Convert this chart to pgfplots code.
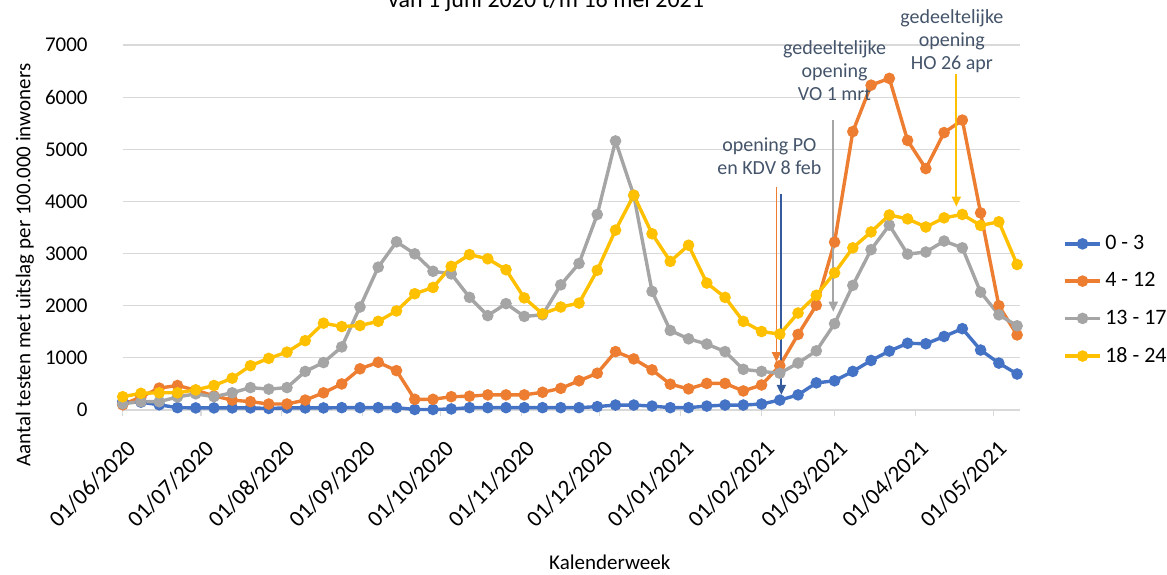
\documentclass[border=0pt]{standalone}
\usepackage{fontspec}
\setmainfont{Carlito}
\usepackage{pgfplots}
\usepackage{pgfplotstable}
\pgfplotsset{compat=1.18}
\usetikzlibrary{arrows.meta}

\definecolor{cA}{HTML}{4472C4}
\definecolor{cB}{HTML}{ED7D31}
\definecolor{cC}{HTML}{A5A5A5}
\definecolor{cD}{HTML}{FFC000}
\definecolor{note}{HTML}{44546A}
\definecolor{gridc}{HTML}{D9D9D9}

% days since 01/06/2020, one row per week
\pgfplotstableread{
d   a    b    c    e
0   160  100  120  255
7   150  250  160  320
14  100  420  160  330
21  45   470  250  330
28  40   380  310  385
35  40   270  255  470
42  40   190  330  610
49  40   160  430  850
56  30   115  400  990
63  40   115  430  1110
70  40   190  740  1330
77  40   330  910  1665
84  45   500  1210 1600
91  45   790  1975 1620
98  45   915  2740 1700
105 45   755  3225 1900
112 10   205  2995 2230
119 10   205  2660 2350
126 20   255  2610 2755
133 45   265  2160 2980
140 45   290  1810 2900
147 45   290  2040 2690
154 45   290  1795 2150
161 45   340  1825 1845
168 45   415  2400 1975
175 45   560  2810 2050
182 65   705  3750 2680
189 95   1120 5160 3450
196 95   980  4115 4120
203 75   770  2275 3380
210 45   495  1525 2850
217 45   405  1365 3160
224 75   510  1265 2435
231 95   510  1120 2160
238 95   365  780  1700
245 115  480  740  1505
252 190  850  705  1455
259 290  1450 900  1860
266 520  2010 1135 2200
273 560  3220 1655 2630
280 740  5340 2390 3110
287 950  6230 3075 3415
294 1130 6360 3545 3740
301 1280 5170 2990 3665
308 1270 4630 3030 3510
315 1410 5320 3240 3685
322 1560 5560 3110 3750
329 1150 3780 2260 3540
336 900  2000 1825 3610
343 690  1440 1615 2790
}\weeks

\begin{document}
\begin{tikzpicture}
\begin{axis}[
  at={(0,0)}, anchor=south west,
  scale only axis, width=448.5pt, height=182.5pt,
  xmin=0, xmax=344, ymin=0, ymax=7000,
  clip=false,
  axis x line*=bottom, axis y line*=left,
  x axis line style={draw=gridc, line width=0.6pt},
  y axis line style={draw=none},
  ytick={0,1000,...,7000},
  ymajorgrids, grid style={gridc, line width=0.6pt},
  ytick style={draw=none},
  xtick={0,30,61,92,122,153,183,214,245,273,304,334},
  xticklabels={01/06/2020,01/07/2020,01/08/2020,01/09/2020,01/10/2020,01/11/2020,01/12/2020,01/01/2021,01/02/2021,01/03/2021,01/04/2021,01/05/2021},
  tick align=outside, major tick length=3pt,
  xtick style={draw=gridc, line width=0.6pt},
  xticklabel style={rotate=45, anchor=north east, font=\fontsize{11.5}{13}\selectfont, inner sep=1pt, xshift=-6pt, yshift=-8pt},
  yticklabel style={font=\fontsize{10.5}{12}\selectfont, xshift=-11pt},
  /pgf/number format/assume math mode=true,
  /pgf/number format/1000 sep={},
  every axis y label/.style={at={(axis description cs:-0.109,0.397)}, rotate=90, anchor=center},
  every axis x label/.style={at={(axis description cs:0.543,-0.416)}, anchor=center},
  ylabel={\fontsize{10.5}{12}\selectfont Aantal testen met uitslag per 100.000 inwoners},
  xlabel={\fontsize{10.5}{12}\selectfont Kalenderweek},
  title={\fontsize{12}{14}\selectfont van 1 juni 2020 t/m 16 mei 2021},
  title style={at={(axis description cs:0.472,1.069)}, anchor=base},
  legend style={at={(1.042,0.301)}, anchor=west, draw=none, fill=none,
    font=\fontsize{11}{13}\selectfont, row sep=6pt},
  legend cell align=left,
  every axis plot/.append style={line width=1.7pt, mark=*, mark size=2pt},
]
\addplot[cA, mark options={fill=cA, draw=cA}] table[x=d, y=a] {\weeks};
\addlegendentry{0 - 3}
\addplot[cB, mark options={fill=cB, draw=cB}] table[x=d, y=b] {\weeks};
\addlegendentry{4 - 12}
\addplot[cC, mark options={fill=cC, draw=cC}] table[x=d, y=c] {\weeks};
\addlegendentry{13 - 17}
\addplot[cD, mark options={fill=cD, draw=cD}] table[x=d, y=e] {\weeks};
\addlegendentry{18 - 24}

\draw[cB, line width=0.9pt, -{Triangle[length=5pt,width=4.5pt]}] (axis cs:250.7,4270) -- (axis cs:250.7,920);
\draw[cA!80!black, line width=0.9pt, -{Triangle[length=5pt,width=4.5pt]}] (axis cs:252.6,4135) -- (axis cs:252.6,290);
\draw[cC, line width=0.9pt, -{Triangle[length=5pt,width=4.5pt]}] (axis cs:272.5,5560) -- (axis cs:272.5,1885);
\draw[cD, line width=0.9pt, -{Triangle[length=5pt,width=4.5pt]}] (axis cs:319.7,6440) -- (axis cs:319.7,3900);

\node[note, align=center, font=\fontsize{10}{11.5}\selectfont] at (axis cs:248,4875) {opening PO\\en KDV 8 feb};
\node[note, align=center, font=\fontsize{10}{11.5}\selectfont] at (axis cs:273,6510) {gedeeltelijke\\opening\\VO 1 mrt};
\node[note, align=center, font=\fontsize{10}{11.5}\selectfont] at (axis cs:318,7070) {gedeeltelijke\\opening\\HO 26 apr};
\end{axis}
\pgfresetboundingbox
\useasboundingbox (-61.35pt,-82pt) rectangle (522.15pt,205pt);
\end{tikzpicture}
\end{document}
